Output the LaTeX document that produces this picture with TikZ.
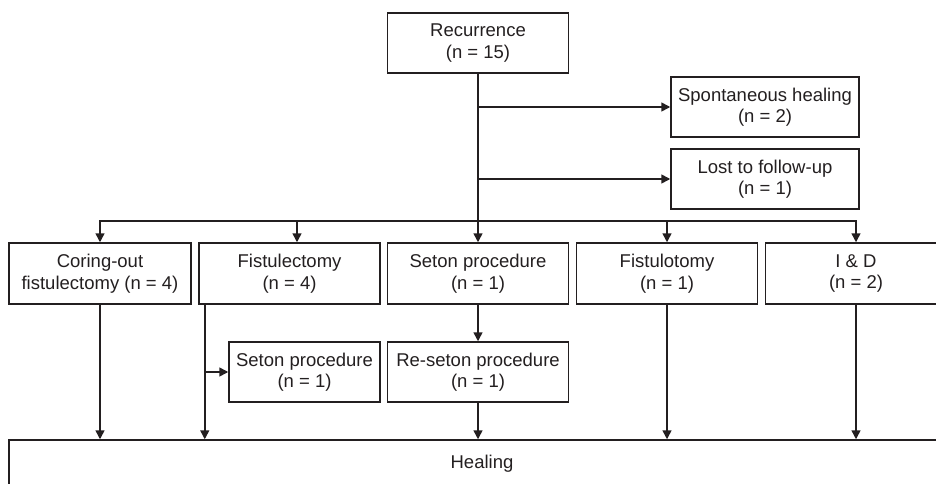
\documentclass[tikz,border=0pt]{standalone}
\usepackage{fontspec}
\setmainfont{Liberation Sans}
\usetikzlibrary{arrows.meta}
\definecolor{ink}{HTML}{231F20}
\begin{document}
\begin{tikzpicture}[x=1pt,y=-1pt,
  every node/.style={font=\fontsize{18.5}{21.5}\selectfont, text=ink},
  box/.style={draw=ink, line width=1.5pt, rectangle, align=center, inner sep=0pt, minimum height=60pt},
  arr/.style={draw=ink, line width=1.5pt, -{Triangle[length=9pt,width=9pt]}},
  ln/.style={draw=ink, line width=1.5pt}]
\useasboundingbox (0,0) rectangle (936,484);
\clip (0,0) rectangle (936,484);
% nodes
\node[box, minimum width=181pt] (rec) at (478,43) {Recurrence\\(n = 15)};
\node[box, minimum width=188pt] (spont) at (765,107) {Spontaneous healing\\(n = 2)};
\node[box, minimum width=188pt] (lost) at (765,179) {Lost to follow-up\\(n = 1)};
\node[box, minimum width=182pt, minimum height=61pt] (coring) at (100,273.5) {Coring-out\\fistulectomy (n = 4)};
\node[box, minimum width=181pt, minimum height=61pt] (fistl) at (289.5,273.5) {Fistulectomy\\(n = 4)};
\node[box, minimum width=181pt, minimum height=61pt] (seton) at (478,273.5) {Seton procedure\\(n = 1)};
\node[box, minimum width=181pt, minimum height=61pt] (fistt) at (667,273.5) {Fistulotomy\\(n = 1)};
\node[box, minimum width=181pt, minimum height=61pt] (iand) at (856,273.5) {I \& D\\(n = 2)};
\node[box, minimum width=151pt] (seton2) at (304.5,372) {Seton procedure\\(n = 1)};
\node[box, minimum width=181pt] (reseton) at (478,372) {Re-seton procedure\\(n = 1)};
\node[box, minimum width=946pt, minimum height=47pt] (heal) at (482,463.5) {Healing};
% connectors
\coordinate (split) at (478,221);
\coordinate (b1) at (478,107);
\coordinate (b2) at (478,179);
\draw[ln] (rec.south) -- (split);
\draw[arr] (b1) -- (spont.west);
\draw[arr] (b2) -- (lost.west);
\draw[arr] (split) -| (coring.north);
\draw[arr] (split) -| ([xshift=7.5pt]fistl.north);
\draw[arr] (split) -- (seton.north);
\draw[arr] (split) -| (fistt.north);
\draw[arr] (split) -| (iand.north);
% lower
\coordinate (fl) at ([xshift=6.5pt]fistl.south west);
\draw[arr] (coring.south) -- (coring.south |- heal.north);
\draw[arr] (fl) -- (fl |- heal.north);
\draw[arr] (fl |- seton2.west) -- (seton2.west);
\draw[arr] (seton.south) -- (reseton.north);
\draw[arr] (reseton.south) -- (reseton.south |- heal.north);
\draw[arr] (fistt.south) -- (fistt.south |- heal.north);
\draw[arr] (iand.south) -- (iand.south |- heal.north);
\end{tikzpicture}
\end{document}
